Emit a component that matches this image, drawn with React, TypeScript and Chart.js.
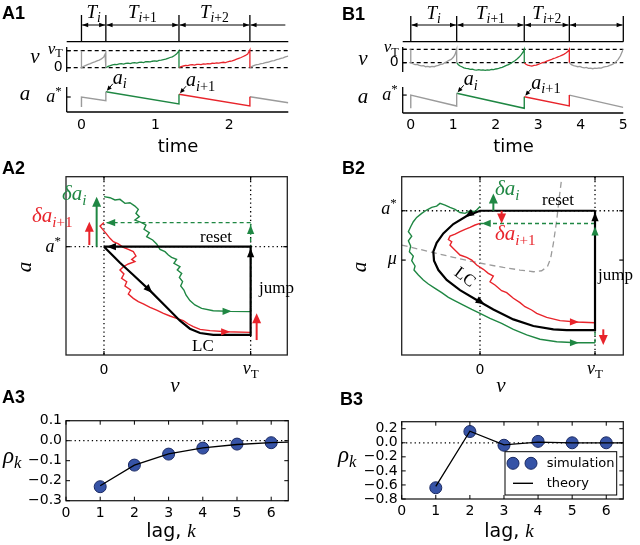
import React, { useEffect, useRef } from 'react';
import { Chart, registerables } from 'chart.js';

Chart.register(...registerables);

type P = [number, number];
type Seg = [string, string];

// ================= A1: traces, regime A =================
const spikeTimesA1 = [0, 0.33, 1.32, 2.28];
const bracketEndA1 = 2.76;
const timeTicksA1 = [0, 1, 2];
const vGrayA1a: P[] = [[0, 1], [0, 0], [0.03, 0.08], [0.06, 0.14], [0.09, 0.2], [0.12, 0.24], [0.15, 0.3], [0.18, 0.34], [0.21, 0.4], [0.24, 0.45], [0.27, 0.52], [0.3, 0.62], [0.32, 0.8], [0.33, 1], [0.33, 0]];
const vGreenA1: P[] = [[0.33, 0], [0.36, 0.08], [0.39, 0.12], [0.42, 0.17], [0.45, 0.2], [0.48, 0.18], [0.51, 0.22], [0.54, 0.24], [0.57, 0.21], [0.6, 0.25], [0.63, 0.27], [0.66, 0.24], [0.69, 0.28], [0.72, 0.3], [0.75, 0.27], [0.78, 0.31], [0.81, 0.33], [0.84, 0.3], [0.87, 0.35], [0.9, 0.36], [0.93, 0.34], [0.96, 0.38], [0.99, 0.4], [1.02, 0.38], [1.05, 0.43], [1.08, 0.45], [1.11, 0.48], [1.14, 0.5], [1.17, 0.55], [1.2, 0.6], [1.23, 0.64], [1.26, 0.72], [1.29, 0.82], [1.32, 1.0], [1.32, 0]];
const vRedA1: P[] = [[1.32, 0], [1.35, 0.06], [1.38, 0.1], [1.41, 0.13], [1.44, 0.12], [1.47, 0.16], [1.5, 0.18], [1.53, 0.15], [1.56, 0.19], [1.59, 0.2], [1.62, 0.18], [1.65, 0.22], [1.68, 0.21], [1.71, 0.24], [1.74, 0.22], [1.77, 0.26], [1.8, 0.25], [1.83, 0.28], [1.86, 0.27], [1.89, 0.3], [1.92, 0.32], [1.95, 0.3], [1.98, 0.35], [2.01, 0.38], [2.04, 0.4], [2.07, 0.45], [2.1, 0.5], [2.13, 0.55], [2.16, 0.6], [2.19, 0.66], [2.22, 0.72], [2.25, 0.8], [2.28, 1.05], [2.28, 0]];
const vGrayA1b: P[] = [[2.28, 0], [2.31, 0.08], [2.34, 0.14], [2.37, 0.18], [2.4, 0.2], [2.43, 0.24], [2.46, 0.26], [2.49, 0.3], [2.52, 0.32], [2.55, 0.36], [2.58, 0.4], [2.61, 0.42], [2.64, 0.47], [2.67, 0.5], [2.7, 0.55], [2.73, 0.58], [2.76, 0.64], [2.8, 0.68]];
const aGrayA1a: P[] = [[0, 0.6], [0, 1.0], [0.33, 0.85], [0.33, 1.21]];
const aGreenA1: P[] = [[0.33, 1.21], [1.32, 0.72], [1.32, 1.11]];
const aRedA1: P[] = [[1.32, 1.11], [2.28, 0.64], [2.28, 1.01]];
const aGrayA1b: P[] = [[2.28, 1.01], [2.8, 0.77]];

// ================= B1: traces, regime B =================
const spikeTimesB1 = [0, 1.08, 2.67, 3.73, 5.0];
const timeTicksB1 = [0, 1, 2, 3, 4, 5];
const vGrayB1a: P[] = [[0, 1], [0, 0], [0.05, -0.08], [0.1, -0.14], [0.15, -0.12], [0.2, -0.2], [0.25, -0.24], [0.3, -0.22], [0.35, -0.3], [0.4, -0.28], [0.45, -0.32], [0.5, -0.27], [0.55, -0.3], [0.6, -0.24], [0.65, -0.2], [0.7, -0.12], [0.75, -0.1], [0.8, 0.0], [0.85, 0.08], [0.9, 0.18], [0.95, 0.25], [1.0, 0.4], [1.04, 0.6], [1.08, 1.0], [1.08, 0]];
const vGreenB1: P[] = [[1.08, 0], [1.12, -0.15], [1.16, -0.25], [1.2, -0.3], [1.25, -0.38], [1.3, -0.42], [1.35, -0.45], [1.4, -0.5], [1.45, -0.48], [1.5, -0.53], [1.55, -0.55], [1.6, -0.52], [1.65, -0.56], [1.7, -0.54], [1.75, -0.57], [1.8, -0.53], [1.85, -0.55], [1.9, -0.5], [1.95, -0.52], [2.0, -0.47], [2.05, -0.45], [2.1, -0.38], [2.15, -0.35], [2.2, -0.28], [2.25, -0.2], [2.3, -0.15], [2.35, -0.05], [2.4, 0.05], [2.45, 0.15], [2.5, 0.28], [2.55, 0.42], [2.6, 0.6], [2.64, 0.78], [2.67, 1.0], [2.67, 0]];
const vRedB1: P[] = [[2.67, 0], [2.71, -0.12], [2.75, -0.18], [2.8, -0.22], [2.85, -0.25], [2.9, -0.2], [2.95, -0.18], [3.0, -0.12], [3.05, -0.06], [3.1, 0.0], [3.15, 0.05], [3.2, 0.12], [3.25, 0.18], [3.3, 0.22], [3.35, 0.3], [3.4, 0.35], [3.45, 0.42], [3.5, 0.48], [3.55, 0.55], [3.6, 0.62], [3.65, 0.72], [3.7, 0.85], [3.73, 1.0], [3.73, 0]];
const vGrayB1b: P[] = [[3.73, 0], [3.78, -0.15], [3.83, -0.22], [3.88, -0.25], [3.93, -0.3], [3.98, -0.28], [4.03, -0.35], [4.08, -0.38], [4.13, -0.35], [4.18, -0.42], [4.23, -0.4], [4.28, -0.45], [4.33, -0.4], [4.38, -0.42], [4.43, -0.38], [4.48, -0.4], [4.53, -0.33], [4.58, -0.3], [4.63, -0.28], [4.68, -0.2], [4.73, -0.15], [4.78, -0.05], [4.83, 0.08], [4.88, 0.25], [4.93, 0.5], [4.97, 0.8], [5.0, 1.0]];
const aGrayB1a: P[] = [[0, 0.557], [0, 1.0], [1.08, 0.634], [1.08, 1.06]];
const aGreenB1: P[] = [[1.08, 1.06], [2.67, 0.557], [2.67, 0.945]];
const aRedB1: P[] = [[2.67, 0.945], [3.73, 0.634], [3.73, 1.0]];
const aGrayB1b: P[] = [[3.73, 1.0], [5.0, 0.59]];

// ================= A2: phase plane, regime A (v, a) =================
const lcA2: P[] = [[0, 1], [0.109, 0.852], [0.2, 0.738], [0.314, 0.594], [0.427, 0.44], [0.518, 0.317], [0.586, 0.243], [0.655, 0.203], [0.745, 0.185], [1, 0.185], [1, 1], [0, 1]];
const greenA2: P[] = [[0, 1.462], [0.041, 1.452], [0.075, 1.431], [0.109, 1.437], [0.143, 1.4], [0.177, 1.406], [0.211, 1.375], [0.234, 1.345], [0.218, 1.308], [0.241, 1.277], [0.211, 1.246], [0.257, 1.222], [0.286, 1.2], [0.273, 1.16], [0.309, 1.129], [0.291, 1.092], [0.332, 1.062], [0.359, 1.025], [0.382, 0.975], [0.416, 0.954], [0.439, 0.923], [0.461, 0.902], [0.495, 0.883], [0.477, 0.846], [0.518, 0.815], [0.5, 0.785], [0.53, 0.754], [0.514, 0.717], [0.536, 0.677], [0.523, 0.637], [0.545, 0.6], [0.559, 0.554], [0.586, 0.502], [0.62, 0.462], [0.666, 0.431], [0.745, 0.409], [0.859, 0.403], [1.0, 0.4]];
const greenJumpA2: P[] = [[1, 0.4], [1, 1.222]];
const greenResetA2: P[] = [[1, 1.222], [0, 1.222]];
const redA2: P[] = [[0, 1.222], [-0.027, 1.191], [-0.009, 1.16], [0.014, 1.123], [0.041, 1.077], [0.064, 1.046], [0.098, 1.025], [0.132, 0.994], [0.166, 0.975], [0.2, 0.954], [0.218, 0.914], [0.189, 0.883], [0.211, 0.862], [0.166, 0.84], [0.132, 0.815], [0.109, 0.785], [0.136, 0.748], [0.12, 0.708], [0.155, 0.677], [0.143, 0.637], [0.182, 0.6], [0.166, 0.563], [0.2, 0.523], [0.234, 0.492], [0.268, 0.471], [0.314, 0.44], [0.359, 0.415], [0.405, 0.385], [0.45, 0.36], [0.495, 0.338], [0.541, 0.317], [0.575, 0.286], [0.609, 0.262], [0.655, 0.237], [0.723, 0.225], [0.836, 0.215], [1.0, 0.209]];

// ================= B2: phase plane, regime B (v, a) =================
const lcB2: P[] = [[1, 1], [0, 1], [-0.116, 0.963], [-0.232, 0.908], [-0.319, 0.843], [-0.377, 0.778], [-0.406, 0.716], [-0.4, 0.654], [-0.362, 0.589], [-0.29, 0.52], [-0.174, 0.45], [-0.029, 0.381], [0.116, 0.316], [0.29, 0.247], [0.464, 0.201], [0.638, 0.178], [0.754, 0.173], [1, 0.173], [1, 1]];
const greenB2: P[] = [[0, 1.03], [-0.043, 0.993], [-0.087, 1.0], [-0.13, 0.982], [-0.174, 0.988], [-0.217, 1.009], [-0.261, 1.023], [-0.304, 1.039], [-0.348, 1.051], [-0.377, 1.032], [-0.42, 1.023], [-0.464, 1.005], [-0.507, 0.982], [-0.551, 0.954], [-0.58, 0.924], [-0.603, 0.889], [-0.623, 0.855], [-0.594, 0.824], [-0.623, 0.792], [-0.603, 0.755], [-0.614, 0.716], [-0.58, 0.686], [-0.594, 0.654], [-0.565, 0.617], [-0.574, 0.589], [-0.536, 0.554], [-0.493, 0.52], [-0.449, 0.492], [-0.391, 0.462], [-0.333, 0.432], [-0.275, 0.4], [-0.217, 0.376], [-0.145, 0.346], [-0.072, 0.316], [0, 0.289], [0.087, 0.254], [0.188, 0.219], [0.29, 0.178], [0.406, 0.139], [0.522, 0.109], [0.667, 0.092], [0.841, 0.085], [1, 0.085]];
const greenJumpB2: P[] = [[1, 0.085], [1, 0.912]];
const greenResetB2: P[] = [[1, 0.912], [0, 0.912]];
const redB2: P[] = [[0, 0.912], [-0.043, 0.901], [-0.087, 0.885], [-0.13, 0.871], [-0.174, 0.855], [-0.217, 0.838], [-0.261, 0.824], [-0.275, 0.801], [-0.246, 0.785], [-0.261, 0.762], [-0.232, 0.739], [-0.203, 0.716], [-0.174, 0.693], [-0.116, 0.677], [-0.072, 0.658], [-0.029, 0.624], [0.029, 0.594], [0.072, 0.566], [0.116, 0.547], [0.087, 0.508], [0.13, 0.485], [0.188, 0.446], [0.232, 0.432], [0.29, 0.393], [0.348, 0.363], [0.391, 0.335], [0.449, 0.312], [0.493, 0.289], [0.58, 0.261], [0.696, 0.238], [0.841, 0.229], [1, 0.224]];
const nullclineB2: P[] = [[-0.681, 0.762], [-0.522, 0.732], [-0.377, 0.704], [-0.232, 0.677], [-0.087, 0.651], [0.058, 0.628], [0.203, 0.607], [0.348, 0.589], [0.464, 0.577], [0.536, 0.584], [0.586, 0.612], [0.614, 0.67], [0.638, 0.774], [0.667, 0.935], [0.69, 1.097], [0.71, 1.224]];
const muB2 = 0.658;

// ================= A3 / B3: serial correlations =================
const lagTicks = [0, 1, 2, 3, 4, 5, 6];
const lagsSim = [1, 2, 3, 4, 5, 6];
const lagsTheory = [1, 2, 3, 4, 5, 6, 6.5];
const rhoSimA3 = [-0.23, -0.122, -0.067, -0.037, -0.017, -0.01];
const rhoTheoryA3 = [-0.225, -0.122, -0.066, -0.036, -0.019, -0.01, -0.007];
const rhoTicksA3 = [-0.3, -0.2, -0.1, 0, 0.1];
const rhoSimB3 = [-0.64, 0.16, -0.035, 0.02, 0.0, 0.0];
const rhoTheoryB3 = [-0.62, 0.165, -0.03, 0.01, 0.0, 0.0, 0.0];
const rhoTicksB3 = [-0.8, -0.6, -0.4, -0.2, 0, 0.2];

// ================= styling & helpers =================
const GREEN = '#1f8743';
const RED = '#e8242b';
const GRAY = '#9b9b9b';
const BLUE = '#3653a6';
const BLUE_EDGE = '#1b2a63';
const SANS = "'DejaVu Sans', 'Bitstream Vera Sans', sans-serif";
const SERIF = "'Liberation Serif', 'Times New Roman', serif";
const PANEL_FONT = "bold 18px 'Liberation Sans', Arial, sans-serif";

const xy = (a: P[]) => a.map(([x, y]) => ({ x, y }));
const zip = (xs: number[], ys: number[]) => xs.map((x, i) => ({ x, y: ys[i] }));

function line(ctx: CanvasRenderingContext2D, x1: number, y1: number, x2: number, y2: number, color = '#000', w = 1, dash: number[] = []) {
  ctx.save();
  ctx.strokeStyle = color;
  ctx.lineWidth = w;
  ctx.setLineDash(dash);
  ctx.beginPath();
  ctx.moveTo(x1, y1);
  ctx.lineTo(x2, y2);
  ctx.stroke();
  ctx.restore();
}

function head(ctx: CanvasRenderingContext2D, x: number, y: number, ang: number, color: string, len = 8, half = 3.5) {
  ctx.save();
  ctx.translate(x, y);
  ctx.rotate(ang);
  ctx.beginPath();
  ctx.moveTo(0, 0);
  ctx.lineTo(-len, -half);
  ctx.lineTo(-len, half);
  ctx.closePath();
  ctx.fillStyle = color;
  ctx.fill();
  ctx.restore();
}

function arrow(ctx: CanvasRenderingContext2D, x1: number, y1: number, x2: number, y2: number, color: string, w: number, len = 9, half = 4) {
  const ang = Math.atan2(y2 - y1, x2 - x1);
  line(ctx, x1, y1, x2 - Math.cos(ang) * len * 0.7, y2 - Math.sin(ang) * len * 0.7, color, w);
  head(ctx, x2, y2, ang, color, len, half);
}

function drawMath(ctx: CanvasRenderingContext2D, segs: Seg[], x: number, y: number, size: number, color = '#000', align = 'left') {
  const parts = segs.map(([t, s]) => {
    const small = s === 'si' || s === 'sr' || s === 'sup';
    const fs = small ? size * 0.72 : size;
    const fam = s === 'n' ? SANS : SERIF;
    const italic = s === 'i' || s === 'si';
    const font = `${italic ? 'italic ' : ''}${fs}px ${fam}`;
    ctx.font = font;
    const w = ctx.measureText(t).width;
    const dy = s === 'si' || s === 'sr' ? size * 0.22 : s === 'sup' ? -size * 0.38 : 0;
    return { t, font, w, dy };
  });
  const total = parts.reduce((a, p) => a + p.w, 0);
  let cx = align === 'left' ? x : align === 'center' ? x - total / 2 : x - total;
  ctx.save();
  ctx.fillStyle = color;
  ctx.textAlign = 'left';
  ctx.textBaseline = 'alphabetic';
  for (const p of parts) {
    ctx.font = p.font;
    ctx.fillText(p.t, cx, y + p.dy);
    cx += p.w;
  }
  ctx.restore();
}

function text(ctx: CanvasRenderingContext2D, t: string, x: number, y: number, font: string, align: CanvasTextAlign = 'center', base: CanvasTextBaseline = 'middle', color = '#000') {
  ctx.save();
  ctx.font = font;
  ctx.fillStyle = color;
  ctx.textAlign = align;
  ctx.textBaseline = base;
  ctx.fillText(t, x, y);
  ctx.restore();
}

const fmtRho = (v: number) => (Math.abs(v) < 1e-9 ? '0.0' : v.toFixed(1)).replace('-', '\u2212');

const T_LABELS: Seg[][] = [
  [['T', 'i'], ['i', 'si']],
  [['T', 'i'], ['i', 'si'], ['+1', 'sr']],
  [['T', 'i'], ['i', 'si'], ['+2', 'sr']],
];
const VT: Seg[] = [['v', 'i'], ['T', 'sr']];
const ASTAR: Seg[] = [['a', 'i'], ['*', 'sup']];

// ================= trace panel (A1/B1) =================
interface TraceOpts {
  label: string; labelX: number; labelY: number;
  spikes: number[]; bracketEnd: number | null;
  brTop: number; brArrow: number; brBase: number; tY: number;
  vSpine: P; aSpine: P;
  vLabel: P; aLabel: P;
  ticks: number[]; tickY: number; timeLabel: P;
  annot: P[];
}

function tracePlugin(o: TraceOpts) {
  return {
    id: 'trace' + o.label,
    beforeDatasetsDraw(chart: any) {
      const { ctx, chartArea: ca } = chart;
      const V = chart.scales.yv;
      for (const v of [0, 1]) line(ctx, ca.left, V.getPixelForValue(v), ca.right, V.getPixelForValue(v), '#000', 1.2, [4, 3]);
    },
    afterDatasetsDraw(chart: any) {
      const { ctx, chartArea: ca } = chart;
      const X = chart.scales.x, V = chart.scales.yv, A = chart.scales.ya;
      const px = (t: number) => X.getPixelForValue(t);
      text(ctx, o.label, o.labelX, o.labelY, PANEL_FONT, 'left', 'alphabetic');
      // bracket with inter-spike intervals
      const sp = o.spikes;
      line(ctx, ca.left, o.brBase, ca.right, o.brBase, '#000', 1.2);
      for (const t of sp) line(ctx, px(t), o.brTop, px(t), o.brBase, '#000', 1.3);
      for (let i = 0; i < sp.length - 1; i++) {
        const a = px(sp[i]) + 0.7, b = px(sp[i + 1]) - 0.7;
        line(ctx, a, o.brArrow, b, o.brArrow, '#000', 1);
        head(ctx, b, o.brArrow, 0, '#000', 6, 2.3);
        head(ctx, a, o.brArrow, Math.PI, '#000', 6, 2.3);
      }
      if (o.bracketEnd !== null) {
        const a = px(sp[sp.length - 1]) + 0.7;
        line(ctx, a, o.brArrow, px(o.bracketEnd), o.brArrow, '#000', 1);
        head(ctx, a, o.brArrow, Math.PI, '#000', 6, 2.3);
      }
      T_LABELS.forEach((segs, i) => {
        if (i < sp.length - 1) drawMath(ctx, segs, (px(sp[i]) + px(sp[i + 1])) / 2, o.tY, 19, '#000', 'center');
      });
      // v axis
      line(ctx, ca.left, V.getPixelForValue(o.vSpine[0]), ca.left, V.getPixelForValue(o.vSpine[1]), '#000', 1.3);
      for (const v of [0, 1]) line(ctx, ca.left, V.getPixelForValue(v), ca.left + 4, V.getPixelForValue(v), '#000', 1.2);
      drawMath(ctx, VT, ca.left - 4, V.getPixelForValue(1) + 3, 17, '#000', 'right');
      text(ctx, '0', ca.left - 4, V.getPixelForValue(0), `14px ${SANS}`, 'right', 'middle');
      drawMath(ctx, [['v', 'i']], o.vLabel[0], o.vLabel[1], 21, '#000', 'center');
      // a axis
      const yb = A.getPixelForValue(o.aSpine[0]);
      line(ctx, ca.left, yb, ca.left, A.getPixelForValue(o.aSpine[1]), '#000', 1.3);
      line(ctx, ca.left, yb, ca.right, yb, '#000', 1.3);
      line(ctx, ca.left, A.getPixelForValue(1), ca.left + 4, A.getPixelForValue(1), '#000', 1.2);
      drawMath(ctx, ASTAR, ca.left - 5, A.getPixelForValue(1) + 5, 18, '#000', 'right');
      drawMath(ctx, [['a', 'i']], o.aLabel[0], o.aLabel[1], 21, '#000', 'center');
      for (const t of o.ticks) text(ctx, String(t), px(t), o.tickY, `14px ${SANS}`, 'center', 'middle');
      text(ctx, 'time', o.timeLabel[0], o.timeLabel[1], `18px ${SANS}`, 'center', 'alphabetic');
      // a_i annotations
      const names: Seg[][] = [[['a', 'i'], ['i', 'si']], [['a', 'i'], ['i', 'si'], ['+1', 'sr']]];
      o.annot.forEach(([t, a], i) => {
        const hx = px(t) + 1, hy = A.getPixelForValue(a) - 1;
        arrow(ctx, hx + 6, hy - 7, hx, hy, '#000', 1, 5, 2.2);
        drawMath(ctx, names[i], hx + 6, hy - 7, 20, '#000', 'left');
      });
    },
  };
}

function traceConfig(segs: { v: P[]; a: P[]; color: string }[], xr: P, vr: P, ar: P, pad: any, plugin: any) {
  const datasets: any[] = [];
  segs.forEach((s) => {
    datasets.push({ data: xy(s.v), yAxisID: 'yv', borderColor: s.color, borderWidth: 1.3, showLine: true, pointRadius: 0, tension: 0 });
    datasets.push({ data: xy(s.a), yAxisID: 'ya', borderColor: s.color, borderWidth: 1.4, showLine: true, pointRadius: 0, tension: 0 });
  });
  return {
    type: 'scatter',
    data: { datasets },
    options: {
      responsive: false, animation: false, events: [],
      layout: { padding: pad },
      plugins: { legend: { display: false }, tooltip: { enabled: false } },
      scales: {
        x: { type: 'linear', min: xr[0], max: xr[1], display: false },
        y: { type: 'linear', display: false },
        yv: { type: 'linear', min: vr[0], max: vr[1], display: false },
        ya: { type: 'linear', min: ar[0], max: ar[1], display: false },
      },
    },
    plugins: [plugin],
  };
}

// ================= phase panel (A2/B2) =================
interface PhaseOpts {
  label: string; labelX: number; labelY: number;
  yTicks: { v: number; segs: Seg[]; dy: number }[];
  arrows: { from: P; to: P; color: string }[];
  heads: { at: P; toward: P; color: string }[];
  texts: { segs: Seg[]; x: number; y: number; color: string; size: number; rot?: number }[];
  aLabel: P; vLabel: P;
}

function phasePlugin(o: PhaseOpts) {
  return {
    id: 'phase' + o.label,
    beforeDatasetsDraw(chart: any) {
      const { ctx, chartArea: ca } = chart;
      const X = chart.scales.x, Y = chart.scales.y;
      const dot = [1.3, 3];
      for (const v of [0, 1]) line(ctx, X.getPixelForValue(v), ca.top, X.getPixelForValue(v), ca.bottom, '#000', 1.3, dot);
      line(ctx, ca.left, Y.getPixelForValue(1), ca.right, Y.getPixelForValue(1), '#000', 1.3, dot);
    },
    afterDatasetsDraw(chart: any) {
      const { ctx, chartArea: ca } = chart;
      const X = chart.scales.x, Y = chart.scales.y;
      const p = (q: P): P => [X.getPixelForValue(q[0]), Y.getPixelForValue(q[1])];
      text(ctx, o.label, o.labelX, o.labelY, PANEL_FONT, 'left', 'alphabetic');
      ctx.save();
      ctx.strokeStyle = '#222';
      ctx.lineWidth = 1.3;
      ctx.strokeRect(ca.left, ca.top, ca.right - ca.left, ca.bottom - ca.top);
      ctx.restore();
      for (const v of [0, 1]) {
        const x = X.getPixelForValue(v);
        line(ctx, x, ca.bottom, x, ca.bottom - 4, '#000', 1.2);
        line(ctx, x, ca.top, x, ca.top + 4, '#000', 1.2);
      }
      for (const t of o.yTicks) {
        const y = Y.getPixelForValue(t.v);
        line(ctx, ca.left, y, ca.left + 4, y, '#000', 1.2);
        line(ctx, ca.right, y, ca.right - 4, y, '#000', 1.2);
        drawMath(ctx, t.segs, ca.left - 5, y + t.dy, 18, '#000', 'right');
      }
      text(ctx, '0', X.getPixelForValue(0), ca.bottom + 15, `14px ${SANS}`, 'center', 'middle');
      drawMath(ctx, VT, X.getPixelForValue(1), ca.bottom + 19, 18, '#000', 'center');
      drawMath(ctx, [['v', 'i']], o.vLabel[0], o.vLabel[1], 21, '#000', 'center');
      ctx.save();
      ctx.translate(o.aLabel[0], o.aLabel[1]);
      ctx.rotate(-Math.PI / 2);
      drawMath(ctx, [['a', 'i']], 0, 6, 21, '#000', 'center');
      ctx.restore();
      for (const a of o.arrows) {
        const [x1, y1] = p(a.from), [x2, y2] = p(a.to);
        arrow(ctx, x1, y1, x2, y2, a.color, 2, 10, 4.5);
      }
      for (const h of o.heads) {
        const [x1, y1] = p(h.at), [x2, y2] = p(h.toward);
        head(ctx, x1, y1, Math.atan2(y2 - y1, x2 - x1), h.color, 9, 3.6);
      }
      for (const t of o.texts) {
        if (t.rot) {
          ctx.save();
          ctx.translate(t.x, t.y);
          ctx.rotate(t.rot);
          drawMath(ctx, t.segs, 0, 5, t.size, t.color, 'center');
          ctx.restore();
        } else drawMath(ctx, t.segs, t.x, t.y, t.size, t.color, 'left');
      }
    },
  };
}

function phaseConfig(xr: P, yr: P, pad: any, sets: { data: P[]; color: string; w: number; dash?: number[]; order: number }[], plugin: any) {
  return {
    type: 'scatter',
    data: {
      datasets: sets.map((s) => ({
        data: xy(s.data), borderColor: s.color, borderWidth: s.w, borderDash: s.dash || [],
        showLine: true, pointRadius: 0, tension: 0, order: s.order,
      })),
    },
    options: {
      responsive: false, animation: false, events: [],
      layout: { padding: pad },
      plugins: { legend: { display: false }, tooltip: { enabled: false } },
      scales: {
        x: { type: 'linear', min: xr[0], max: xr[1], display: false },
        y: { type: 'linear', min: yr[0], max: yr[1], display: false },
      },
    },
    plugins: [plugin],
  };
}

// ================= correlation panel (A3/B3) =================
function corrPlugin(label: string, labelX: number, labelY: number, rhoPos: P, lagPos: P, legend: P | null) {
  return {
    id: 'corr' + label,
    afterDraw(chart: any) {
      const { ctx, chartArea: ca } = chart;
      const X = chart.scales.x, Y = chart.scales.y;
      text(ctx, label, labelX, labelY, PANEL_FONT, 'left', 'alphabetic');
      ctx.save();
      ctx.strokeStyle = '#222';
      ctx.lineWidth = 1.3;
      ctx.strokeRect(ca.left, ca.top, ca.right - ca.left, ca.bottom - ca.top);
      ctx.restore();
      for (const t of X.ticks) {
        const x = X.getPixelForValue(t.value);
        line(ctx, x, ca.bottom, x, ca.bottom - 4, '#000', 1);
        line(ctx, x, ca.top, x, ca.top + 4, '#000', 1);
      }
      for (const t of Y.ticks) {
        const y = Y.getPixelForValue(t.value);
        line(ctx, ca.left, y, ca.left + 4, y, '#000', 1);
        line(ctx, ca.right, y, ca.right - 4, y, '#000', 1);
      }
      drawMath(ctx, [['ρ', 'i'], ['k', 'si']], rhoPos[0], rhoPos[1], 23, '#000', 'left');
      drawMath(ctx, [['lag, ', 'n'], ['k', 'i']], lagPos[0], lagPos[1], 19, '#000', 'center');
      if (legend) {
        const [lx, ly] = legend;
        const w = 111.7, h = 43.3;
        ctx.save();
        ctx.fillStyle = '#fff';
        ctx.fillRect(lx, ly, w, h);
        ctx.strokeStyle = '#000';
        ctx.lineWidth = 1;
        ctx.strokeRect(lx, ly, w, h);
        for (const cx of [lx + 8, lx + 26]) {
          ctx.beginPath();
          ctx.arc(cx, ly + 11.6, 6, 0, Math.PI * 2);
          ctx.fillStyle = BLUE;
          ctx.fill();
          ctx.strokeStyle = BLUE_EDGE;
          ctx.stroke();
        }
        ctx.restore();
        line(ctx, lx + 8, ly + 31.6, lx + 28, ly + 31.6, '#000', 1.4);
        text(ctx, 'simulation', lx + 41.7, ly + 11.6, `13px ${SANS}`, 'left', 'middle');
        text(ctx, 'theory', lx + 41.7, ly + 31.6, `13px ${SANS}`, 'left', 'middle');
      }
    },
  };
}

function corrConfig(sim: number[], theory: number[], yr: P, yTicks: number[], pad: any, plugin: any) {
  const font = { family: SANS, size: 14 };
  return {
    type: 'scatter',
    data: {
      datasets: [
        { data: zip(lagsTheory, theory), showLine: true, borderColor: '#000', borderWidth: 1.3, pointRadius: 0, order: 0 },
        { data: zip(lagsSim, sim), showLine: false, pointRadius: 6, backgroundColor: BLUE, borderColor: BLUE_EDGE, borderWidth: 1, order: 1 },
        { data: [{ x: 0, y: 0 }, { x: 6.5, y: 0 }], showLine: true, borderColor: '#000', borderWidth: 1.3, borderDash: [1.3, 3], pointRadius: 0, order: 2 },
      ],
    },
    options: {
      responsive: false, animation: false, events: [],
      layout: { padding: pad },
      plugins: { legend: { display: false }, tooltip: { enabled: false } },
      scales: {
        x: {
          type: 'linear', min: 0, max: 6.5,
          grid: { display: false, drawTicks: false }, border: { display: false },
          ticks: { font, color: '#000', padding: 4, maxRotation: 0, autoSkip: false, callback: (v: number) => String(v) },
          afterBuildTicks: (s: any) => { s.ticks = lagTicks.map((value) => ({ value })); },
          afterFit: (s: any) => { s.height = 20; },
        },
        y: {
          type: 'linear', min: yr[0], max: yr[1],
          grid: { display: false, drawTicks: false }, border: { display: false },
          ticks: { font, color: '#000', padding: 4, autoSkip: false, callback: (v: number) => fmtRho(v) },
          afterBuildTicks: (s: any) => { s.ticks = yTicks.map((value) => ({ value })); },
          afterFit: (s: any) => { s.width = 60; },
        },
      },
    },
    plugins: [plugin],
  };
}

// ================= configs =================
const configA1 = () => traceConfig(
  [
    { v: vGrayA1a, a: aGrayA1a, color: GRAY },
    { v: vGreenA1, a: aGreenA1, color: GREEN },
    { v: vRedA1, a: aRedA1, color: RED },
    { v: vGrayA1b, a: aGrayA1b, color: GRAY },
  ],
  [-0.2, 2.8], [-2.606, 3.1], [0.4, 4.28],
  { left: 66.7, right: 31.7, top: 15, bottom: 48 },
  tracePlugin({
    label: 'A1', labelX: 2, labelY: 19, spikes: spikeTimesA1, bracketEnd: bracketEndA1,
    brTop: 15, brArrow: 25, brBase: 41.7, tY: 18, vSpine: [-0.25, 1.22], aSpine: [0.4, 1.4],
    vLabel: [35, 63], aLabel: [25, 100], ticks: timeTicksA1, tickY: 125, timeLabel: [178, 152],
    annot: [aGreenA1[0], aRedA1[0]],
  }),
);

const configB1 = () => traceConfig(
  [
    { v: vGrayB1a, a: aGrayB1a, color: GRAY },
    { v: vGreenB1, a: aGreenB1, color: GREEN },
    { v: vRedB1, a: aRedB1, color: RED },
    { v: vGrayB1b, a: aGrayB1b, color: GRAY },
  ],
  [-0.19, 5.0], [-3.754, 3.56], [0.4, 3.678],
  { left: 82.7, right: 16.7, top: 15, bottom: 47 },
  tracePlugin({
    label: 'B1', labelX: 22, labelY: 20, spikes: spikeTimesB1, bracketEnd: null,
    brTop: 16, brArrow: 25, brBase: 41.7, tY: 19, vSpine: [-0.69, 1.17], aSpine: [0.4, 1.27],
    vLabel: [43, 65], aLabel: [43, 103], ticks: timeTicksB1, tickY: 125, timeLabel: [193.5, 152],
    annot: [aGreenB1[0], aRedB1[0]],
  }),
);

const configA2 = () => phaseConfig(
  [-0.259, 1.25], [0, 1.646], { left: 66, right: 32.7, top: 16.7, bottom: 40 },
  [
    { data: greenJumpA2, color: GREEN, w: 1.4, dash: [4, 3], order: 3 },
    { data: greenResetA2, color: GREEN, w: 1.4, dash: [4, 3], order: 3 },
    { data: greenA2, color: GREEN, w: 1.4, order: 2 },
    { data: redA2, color: RED, w: 1.4, order: 1 },
    { data: lcA2, color: '#000', w: 2.2, order: 0 },
  ],
  phasePlugin({
    label: 'A2', labelX: 2, labelY: 14,
    yTicks: [{ v: 1, segs: ASTAR, dy: 5 }],
    arrows: [
      { from: [-0.05, 1.0], to: [-0.05, 1.462], color: GREEN },
      { from: [-0.1, 1.015], to: [-0.1, 1.231], color: RED },
      { from: [1.041, 0.138], to: [1.041, 0.385], color: RED },
    ],
    heads: [
      { at: [0.33, 0.572], toward: [0.427, 0.44], color: '#000' },
      { at: [0.02, 1.0], toward: [-1, 1.0], color: '#000' },
      { at: [1, 0.985], toward: [1, 2], color: '#000' },
      { at: [0.87, 0.403], toward: [2, 0.403], color: GREEN },
      { at: [1, 1.2], toward: [1, 2], color: GREEN },
      { at: [0.015, 1.222], toward: [-1, 1.222], color: GREEN },
      { at: [0.86, 0.214], toward: [2, 0.212], color: RED },
    ],
    texts: [
      { segs: [['δ', 'i'], ['a', 'i'], ['i', 'si']], x: 62, y: 40, color: GREEN, size: 21 },
      { segs: [['δ', 'i'], ['a', 'i'], ['i', 'si'], ['+1', 'sr']], x: 32, y: 62, color: RED, size: 21 },
      { segs: [['reset', 'r']], x: 200, y: 82, color: '#000', size: 17 },
      { segs: [['jump', 'r']], x: 259, y: 133, color: '#000', size: 17 },
      { segs: [['LC', 'r']], x: 192, y: 191, color: '#000', size: 17 },
    ],
    aLabel: [25, 107], vLabel: [175, 232],
  }),
);

const configB2 = () => phaseConfig(
  [-0.681, 1.246], [0, 1.236], { left: 81.7, right: 16.7, top: 16.7, bottom: 40 },
  [
    { data: nullclineB2, color: GRAY, w: 1.3, dash: [6, 4], order: 4 },
    { data: greenJumpB2, color: GREEN, w: 1.4, dash: [4, 3], order: 3 },
    { data: greenResetB2, color: GREEN, w: 1.4, dash: [4, 3], order: 3 },
    { data: greenB2, color: GREEN, w: 1.4, order: 2 },
    { data: redB2, color: RED, w: 1.4, order: 1 },
    { data: lcB2, color: '#000', w: 2.2, order: 0 },
  ],
  phasePlugin({
    label: 'B2', labelX: 22, labelY: 14,
    yTicks: [{ v: 1, segs: ASTAR, dy: 3 }, { v: muB2, segs: [['μ', 'i']], dy: 4 }],
    arrows: [
      { from: [0.116, 1.0], to: [0.116, 1.12], color: GREEN },
      { from: [0.188, 1.0], to: [0.188, 0.912], color: RED },
      { from: [1.072, 0.178], to: [1.072, 0.069], color: RED },
    ],
    heads: [
      { at: [-0.13, 0.958], toward: [-0.232, 0.908], color: '#000' },
      { at: [0.04, 0.352], toward: [0.116, 0.316], color: '#000' },
      { at: [1, 0.99], toward: [1, 2], color: '#000' },
      { at: [0.86, 0.085], toward: [2, 0.085], color: GREEN },
      { at: [1, 0.89], toward: [1, 2], color: GREEN },
      { at: [0.015, 0.912], toward: [-1, 0.912], color: GREEN },
      { at: [0.86, 0.229], toward: [2, 0.226], color: RED },
    ],
    texts: [
      { segs: [['δ', 'i'], ['a', 'i'], ['i', 'si']], x: 175, y: 35, color: GREEN, size: 21 },
      { segs: [['reset', 'r']], x: 222, y: 45, color: '#000', size: 17 },
      { segs: [['δ', 'i'], ['a', 'i'], ['i', 'si'], ['+1', 'sr']], x: 175, y: 80, color: RED, size: 21 },
      { segs: [['LC', 'r']], x: 145, y: 117, color: '#000', size: 17, rot: 0.65 },
      { segs: [['jump', 'r']], x: 278, y: 120, color: '#000', size: 17 },
    ],
    aLabel: [40, 107], vLabel: [181, 232],
  }),
);

const configA3 = () => corrConfig(rhoSimA3, rhoTheoryA3, [-0.3, 0.1], rhoTicksA3,
  { left: 6, right: 31.7, top: 35.7, bottom: 24.3 },
  corrPlugin('A3', 2, 18, [3, 78], [171, 152], null));

const configB3 = () => corrConfig(rhoSimB3, rhoTheoryB3, [-0.8, 0.3], rhoTicksB3,
  { left: 21.7, right: 16.7, top: 36.7, bottom: 26 },
  corrPlugin('B3', 20, 20, [18, 77], [189, 152], [185, 66.7]));

function Panel({ left, top, width, height, make }: { left: number; top: number; width: number; height: number; make: () => any }) {
  const ref = useRef<HTMLCanvasElement>(null);
  useEffect(() => {
    const chart = new Chart(ref.current as HTMLCanvasElement, make());
    return () => chart.destroy();
  }, []);
  return (
    <canvas
      ref={ref}
      width={width}
      height={height}
      style={{ position: 'absolute', left, top, width, height, display: 'block' }}
    />
  );
}

export default function App() {
  return (
    <div style={{ position: 'absolute', left: 0, top: 0, width: 640, height: 545, background: '#fff', overflow: 'hidden' }}>
      <Panel left={0} top={0} width={320} height={160} make={configA1} />
      <Panel left={320} top={0} width={320} height={160} make={configB1} />
      <Panel left={0} top={160} width={320} height={235} make={configA2} />
      <Panel left={320} top={160} width={320} height={235} make={configB2} />
      <Panel left={0} top={385} width={320} height={160} make={configA3} />
      <Panel left={320} top={385} width={320} height={160} make={configB3} />
    </div>
  );
}
